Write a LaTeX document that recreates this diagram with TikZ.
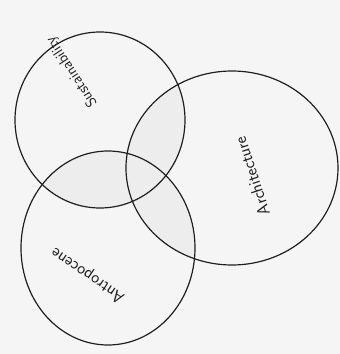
\documentclass[tikz,border=0pt]{standalone}
\begin{document}
\begin{tikzpicture}[x=1pt,y=1pt,
  setline/.style={draw=black!88,line width=1.2pt},
  hatch/.style={fill=black!7},
  lbl/.style={font=\sffamily,text=black!88,inner sep=0pt}]
\fill[white!96!black] (0,0) rectangle (340,354);
\useasboundingbox (0,0) rectangle (340,354);
\coordinate (c1) at (100,234);
\coordinate (c2) at (232,186);
\coordinate (c3) at (108,106);
\def\ellA{(c1) ellipse [x radius=85, y radius=88]}
\def\ellB{(c2) ellipse [x radius=106, y radius=97]}
\def\ellC{(c3) ellipse [x radius=87, y radius=97]}
% shading of overlaps
\begin{scope}
  \clip \ellA;
  \fill[hatch] \ellB;
  \fill[hatch] \ellC;
\end{scope}
\begin{scope}
  \clip \ellB;
  \fill[hatch] \ellC;
\end{scope}
\draw[setline] \ellA;
\draw[setline] \ellB;
\draw[setline] \ellC;
\node[lbl,rotate=123] (t1) at (72,282) {\fontsize{15}{15}\selectfont Sustainability};
\node[lbl,rotate=108] (t2) at (252,178) {\fontsize{17}{17}\selectfont Architecture};
\node[lbl,rotate=146] (t3) at (88,79) {\fontsize{17}{17}\selectfont Antropocene};
\end{tikzpicture}
\end{document}
